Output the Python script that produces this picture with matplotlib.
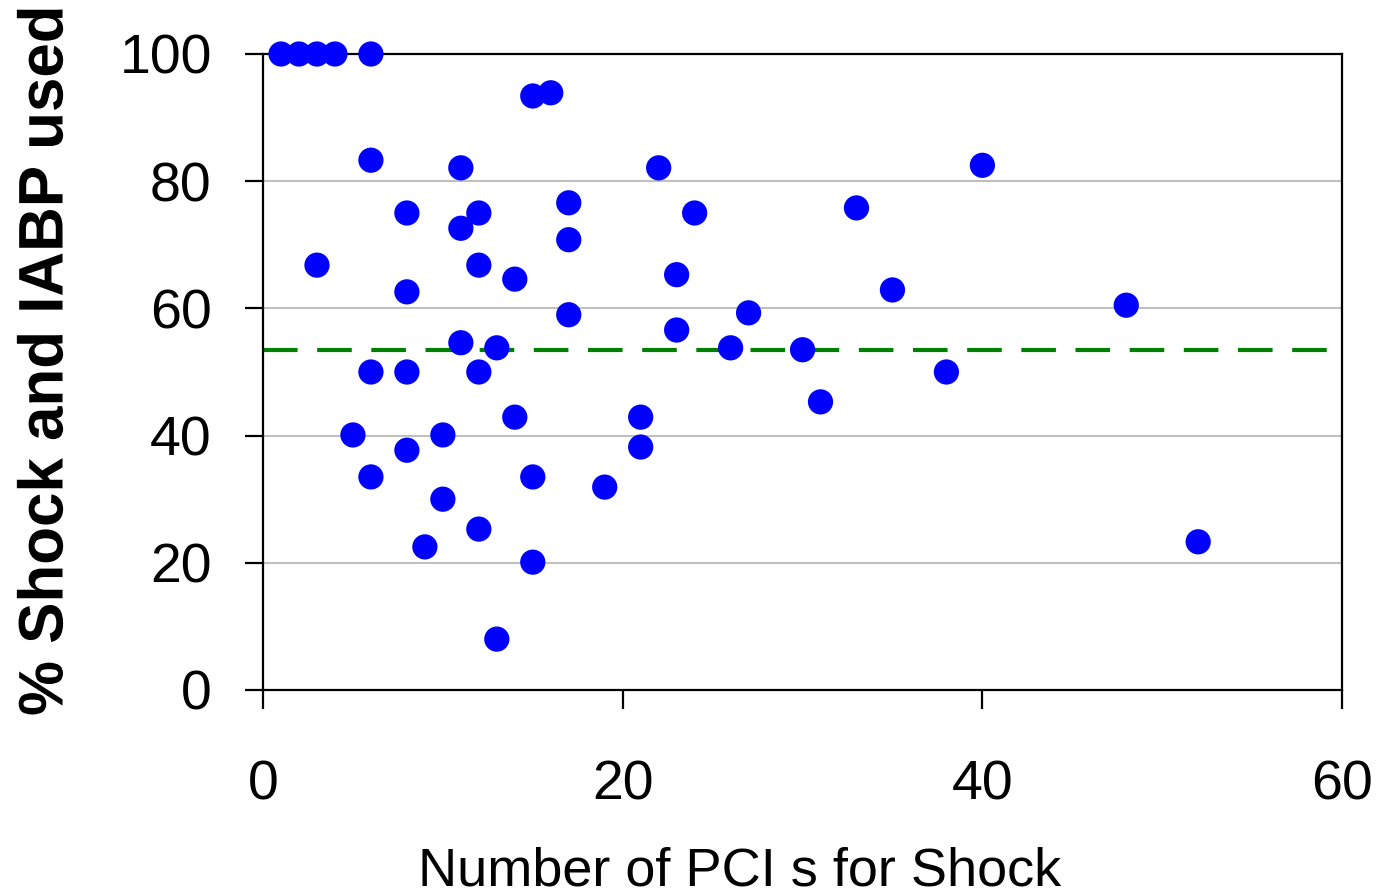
import matplotlib
matplotlib.use("Agg")
import matplotlib.pyplot as plt
import matplotlib.transforms as mtransforms
from matplotlib.textpath import TextPath
from matplotlib.patches import PathPatch
from matplotlib.font_manager import FontProperties

# data
pci_count = [1, 2, 3, 4, 6, 15, 16, 6, 11, 22, 40, 8, 12, 17, 24, 33, 11, 17,
             3, 12, 14, 23, 8, 35, 48, 17, 27, 23, 11, 13, 26, 30, 6, 8, 12, 38,
             31, 14, 21, 5, 10, 21, 8, 6, 15, 19, 10, 12, 9, 52, 15, 13]
iabp_pct = [100, 100, 100, 100, 100, 93.4, 93.9, 83.3, 82.1, 82.1, 82.5, 75, 75,
            76.6, 75, 75.8, 72.6, 70.8, 66.8, 66.8, 64.6, 65.3, 62.6, 62.9, 60.5,
            59, 59.3, 56.6, 54.6, 53.8, 53.8, 53.5, 50, 50, 50, 50, 45.3, 42.9,
            42.9, 40.1, 40.1, 38.2, 37.7, 33.5, 33.5, 31.9, 30, 25.3, 22.5, 23.3,
            20.1, 8]
mean_pct = 53.5

x_ticks = [0, 20, 40, 60]
y_ticks = [0, 20, 40, 60, 80, 100]

W, H = 1380, 894
fig = plt.figure(figsize=(W / 100, H / 100), dpi=100)
ax = fig.add_axes([0.1906, 0.2282, 0.7819, 0.7114])

# grid lines
for yv in y_ticks[1:-1]:
    ax.axhline(yv, color="#c0c0c0", lw=1.5, zorder=1)

ax.axhline(mean_pct, color="#008000", lw=3, dashes=(8.3, 4.7), zorder=2)
ax.scatter(pci_count, iabp_pct, s=330, color="#0000ff", edgecolors="none",
           zorder=3, clip_on=False)

ax.set_xlim(0, 60)
ax.set_ylim(0, 100)
ax.set_xticks(x_ticks)
ax.set_yticks(y_ticks)

for s in ax.spines.values():
    s.set_linewidth(1.6)
    s.set_color("black")

ax.tick_params(axis="y", direction="out", length=13, width=1.6, pad=24,
               labelsize=40)
ax.tick_params(axis="x", direction="out", length=14, width=1.6, pad=36,
               labelsize=40)
for lab in ax.get_xticklabels() + ax.get_yticklabels():
    lab.set_fontfamily("Liberation Sans")

fig.text(740 / W, 1 - 885 / H, "Number of PCI s for Shock", fontsize=39,
         family="Liberation Sans", ha="center", va="baseline")

# y label: bold, condensed, drawn as a path so it can be squeezed
fp = FontProperties(family="Liberation Sans", weight="bold")
tp = TextPath((0, 0), "% Shock and IABP used", size=63, prop=fp)
bb = tp.get_extents()
sx = 705 / bb.width
tr = (mtransforms.Affine2D()
      .translate(-(bb.x0 + bb.x1) / 2, -(bb.y0 + bb.y1) / 2)
      .scale(sx, 1)
      .rotate_deg(90)
      .translate(40, H - 362))
fig.add_artist(PathPatch(tp, transform=tr, facecolor="black",
                         edgecolor="none"))

fig.savefig("out.png", dpi=100)
